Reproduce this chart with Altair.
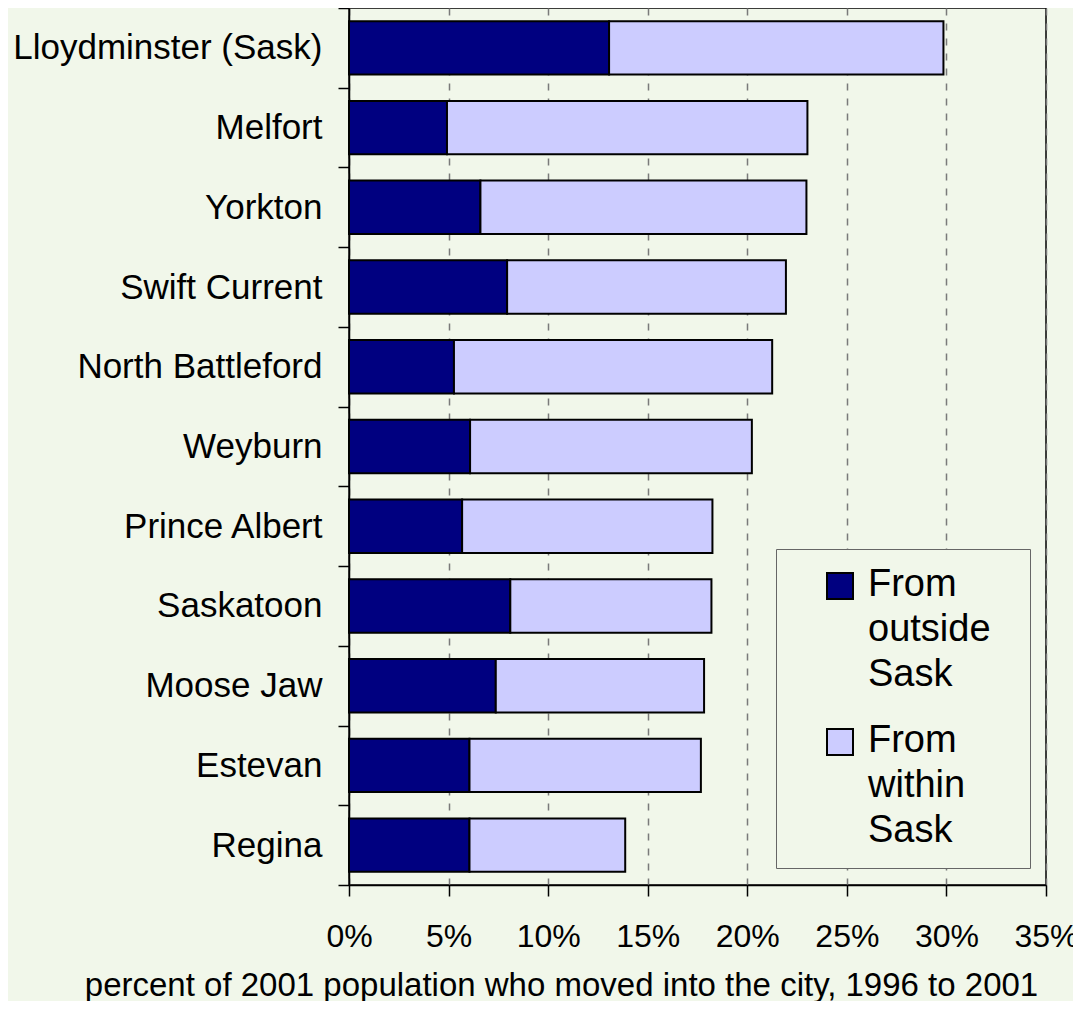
import altair as alt
import pandas as pd

cities = ["Lloydminster (Sask)", "Melfort", "Yorkton", "Swift Current",
          "North Battleford", "Weyburn", "Prince Albert", "Saskatoon",
          "Moose Jaw", "Estevan", "Regina"]
outside = [13.06, 4.92, 6.60, 7.94, 5.27, 6.08, 5.68, 8.10, 7.37, 6.05, 6.05]
within = [16.79, 18.10, 16.37, 14.00, 15.98, 14.15, 12.57, 10.10, 10.46, 11.62, 7.82]
series = ["From outside Sask", "From within Sask"]
colors = ["#000080", "#CCCCFF"]
x_ticks = [0, 5, 10, 15, 20, 25, 30, 35]
x_title = "percent of 2001 population who moved into the city, 1996 to 2001"

rows = []
for c, o, w in zip(cities, outside, within):
    rows.append({"city": c, "series": series[0], "value": o, "order": 0})
    rows.append({"city": c, "series": series[1], "value": w, "order": 1})
df = pd.DataFrame(rows)

bg = "#F1F7EA"
font = "Liberation Sans"
pad_txt = "\u00a0\u00a0\u200b"
label_expr = ("[split(datum.label, ' ')[0], split(datum.label, ' ')[1] + '" + pad_txt +
              "', split(datum.label, ' ')[2]]")
shift = 10

chart = alt.Chart(df).mark_bar(
    stroke="black", strokeWidth=2, height={"band": 0.67}
).encode(
    y=alt.Y("city:N", sort=cities,
            scale=alt.Scale(paddingInner=0, paddingOuter=0),
            axis=alt.Axis(title=None, tickBand="extent", tickSize=11,
                          tickColor="black", tickWidth=1.5,
                          domainColor="black", domainWidth=1.5,
                          labelFontSize=35, labelPadding=16, labelLimit=600,
                          labelOffset=-shift,
                          labelColor="black", labelFont=font, grid=False)),
    x=alt.X("value:Q", stack="zero",
            scale=alt.Scale(domain=[0, 35], nice=False),
            axis=alt.Axis(values=x_ticks, labelExpr="datum.value + '%'",
                          labelFontSize=32, labelFont=font, labelColor="black",
                          labelPadding=25 - shift, labelFlush=False,
                          labelOverlap=False,
                          tickSize=11, tickColor="black", tickWidth=1.5,
                          domainColor="black", domainWidth=1.5,
                          grid=True, gridDash=[7, 8], gridColor="#7a7a7a",
                          gridWidth=1.5,
                          title=x_title, titleFontSize=33, titleFont=font,
                          titleFontWeight="normal", titleColor="black",
                          titleX=212, titleY=110, titleAlign="center",
                          titleBaseline="alphabetic")),
    color=alt.Color("series:N",
                    scale=alt.Scale(domain=series, range=colors),
                    legend=alt.Legend(title=None, orient="none",
                                      legendX=427, legendY=541,
                                      strokeColor="#666666", fillColor=bg,
                                      padding=18, symbolOffset=27,
                                      symbolType="square", symbolSize=676,
                                      symbolStrokeWidth=2,
                                      symbolStrokeColor="black",
                                      labelFontSize=38, labelFont=font,
                                      labelColor="black", labelOffset=9,
                                      labelLimit=300,
                                      labelExpr=label_expr,
                                      labelBaseline="alphabetic",
                                      rowPadding=28)),
    order=alt.Order("order:Q"),
).properties(
    width=697, height=877, background=bg,
    padding={"left": 341, "top": 0, "right": 27, "bottom": 116},
    autosize=alt.AutoSizeParams(type="none"),
).configure(
    style={"guide-label": {"lineHeight": 45, "dy": shift}}
).configure_view(stroke="black", strokeWidth=1.5)

chart.save("out.html", embed_options={"renderer": "svg", "actions": False})
